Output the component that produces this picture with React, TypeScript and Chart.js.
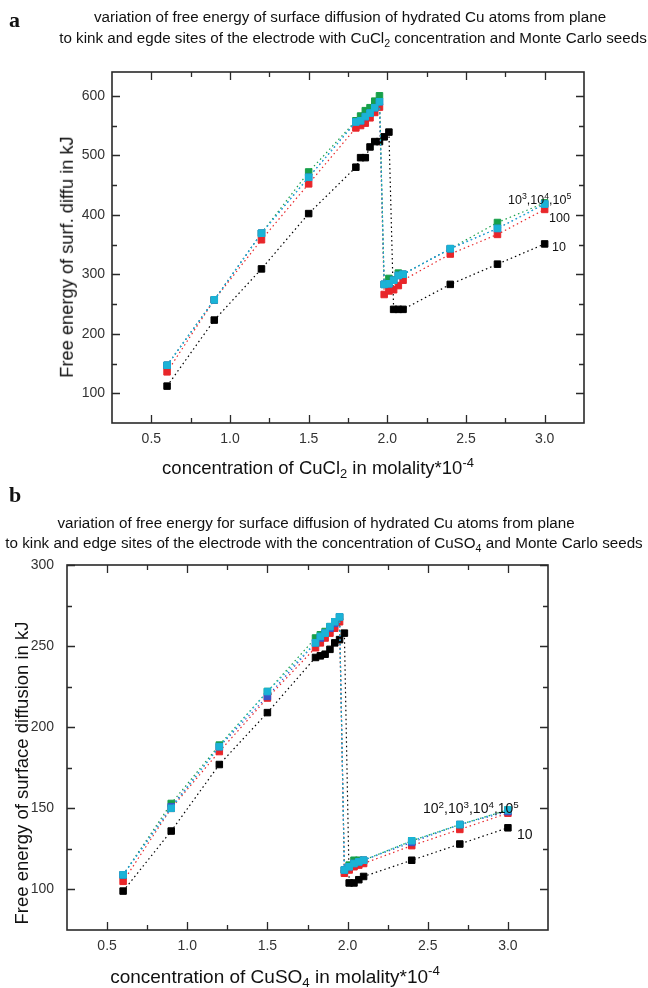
import React, { useEffect, useRef } from 'react';
import { Chart, registerables } from 'chart.js';

Chart.register(...registerables);

const FONT = '"Liberation Sans", Arial, sans-serif';

// concentration (molality * 10^-4)
const xConc = [0.6, 0.9, 1.2, 1.5, 1.8, 1.83, 1.86, 1.89, 1.92, 1.95, 1.98, 2.01, 2.04, 2.07, 2.1, 2.4, 2.7, 3.0];

// Panel a: CuCl2
const aSeed10 = [112, 223, 309, 402, 480, 496, 496, 514, 523, 523, 531, 539, 241, 241, 241, 283, 317, 351];
const aSeed100 = [136, 257, 358, 452, 546, 550, 554, 563, 572, 581, 266, 272, 274, 281, 290, 334, 367, 409];
const aSeed1e3 = [147, 257, 369, 472, 558, 566, 575, 580, 591, 600, 283, 293, 290, 302, 300, 343, 387, 420];
const aSeed1e4 = [147, 257, 369, 463, 556, 558, 565, 571, 580, 590, 283, 284, 290, 298, 300, 343, 377, 418];
const aSeed1e5 = [147, 257, 369, 463, 556, 558, 565, 571, 580, 590, 283, 284, 290, 298, 300, 343, 377, 418];

// Panel b: CuSO4
const bSeed10 = [99, 136, 177, 209, 243, 244, 245, 248, 252, 254, 258, 104, 104, 106, 108, 118, 128, 138];
const bSeed100 = [105, 150, 185, 218, 249, 252, 255, 258, 261, 265, 110, 112, 114, 115, 116, 127, 137, 147];
const bSeed1e3 = [109, 153, 189, 222, 255, 257, 259, 262, 265, 268, 112, 115, 118, 118, 118, 130, 140, 149];
const bSeed1e4 = [109, 151, 188, 219, 252, 255, 258, 261, 264, 268, 112, 114, 116, 117, 118, 129, 140, 148];
const bSeed1e5 = [109, 150, 188, 222, 252, 256, 258, 262, 265, 268, 112, 114, 116, 117, 118, 130, 140, 149];

const seedLabels = ['10', '100', '1000', '10000', '100000'];
const seedColors = ['#000000', '#e8262a', '#17a04a', '#3a55c8', '#1bb3d6'];
const seedOrder = [4, 3, 2, 1, 0];

const xMajor = [0.5, 1.0, 1.5, 2.0, 2.5, 3.0];
const xMinor = [0.75, 1.25, 1.75, 2.25, 2.75];
const aYMajor = [100, 200, 300, 400, 500, 600];
const aYMinor = [150, 250, 350, 450, 550];
const bYMajor = [100, 150, 200, 250, 300];
const bYMinor = [125, 175, 225, 275];

const framePlugin = {
  id: 'frame',
  afterDraw(chart: any, _args: any, opts: any) {
    const { ctx, chartArea, scales } = chart;
    const { left, right, top, bottom } = chartArea;
    const x = scales.x;
    const y = scales.y;
    ctx.save();
    ctx.strokeStyle = '#2a2a2a';
    ctx.lineWidth = 1.6;
    ctx.strokeRect(left, top, right - left, bottom - top);
    ctx.lineWidth = 1.3;
    const drawX = (vals: number[], len: number) => {
      for (const v of vals) {
        const px = Math.round(x.getPixelForValue(v)) + 0.5;
        ctx.beginPath();
        ctx.moveTo(px, bottom);
        ctx.lineTo(px, bottom - len);
        ctx.moveTo(px, top);
        ctx.lineTo(px, top + len);
        ctx.stroke();
      }
    };
    const drawY = (vals: number[], len: number) => {
      for (const v of vals) {
        const py = Math.round(y.getPixelForValue(v)) + 0.5;
        ctx.beginPath();
        ctx.moveTo(left, py);
        ctx.lineTo(left + len, py);
        ctx.moveTo(right, py);
        ctx.lineTo(right - len, py);
        ctx.stroke();
      }
    };
    drawX(opts.xMajor, 8);
    drawX(opts.xMinor, 5);
    drawY(opts.yMajor, 8);
    drawY(opts.yMinor, 5);
    ctx.restore();
  },
};

function makeDatasets(series: number[][]) {
  return series.map((vals, i) => ({
    label: seedLabels[i],
    data: xConc.map((xv, j) => ({ x: xv, y: vals[j] })),
    borderColor: seedColors[i],
    backgroundColor: seedColors[i],
    borderWidth: 1.2,
    borderDash: [1.5, 3],
    pointStyle: 'rect',
    pointRadius: 4.6,
    pointBorderWidth: 1,
    pointBorderColor: seedColors[i],
    pointBackgroundColor: seedColors[i],
    showLine: true,
    fill: false,
    tension: 0,
    order: seedOrder[i],
  }));
}

function makeConfig(
  series: number[][],
  yMin: number,
  yMax: number,
  yMajor: number[],
  yMinor: number[],
  padding: any,
  yWidth: number,
  yPad: number
): any {
  return {
    type: 'line',
    data: { datasets: makeDatasets(series) },
    plugins: [framePlugin],
    options: {
      responsive: false,
      animation: false,
      events: [],
      layout: { padding },
      plugins: {
        legend: { display: false },
        tooltip: { enabled: false },
        frame: { xMajor, xMinor, yMajor, yMinor },
      },
      scales: {
        x: {
          type: 'linear',
          min: 0.25,
          max: 3.25,
          afterFit: (s: any) => {
            s.height = 30;
          },
          afterBuildTicks: (s: any) => {
            s.ticks = xMajor.map((v) => ({ value: v }));
          },
          ticks: {
            callback: (v: any) => Number(v).toFixed(1),
            font: { family: FONT, size: 14 },
            color: '#333',
            padding: 8,
            maxRotation: 0,
            autoSkip: false,
          },
          grid: { display: false, drawTicks: false },
          border: { display: false },
        },
        y: {
          type: 'linear',
          min: yMin,
          max: yMax,
          afterFit: (s: any) => {
            s.width = yWidth;
          },
          afterBuildTicks: (s: any) => {
            s.ticks = yMajor.map((v) => ({ value: v }));
          },
          ticks: {
            callback: (v: any) => String(v),
            font: { family: FONT, size: 14 },
            color: '#333',
            padding: yPad,
            autoSkip: false,
          },
          grid: { display: false, drawTicks: false },
          border: { display: false },
        },
      },
    },
  };
}

function ChartCanvas({ top, height, config }: { top: number; height: number; config: () => any }) {
  const ref = useRef<HTMLCanvasElement>(null);
  useEffect(() => {
    const chart = new Chart(ref.current as HTMLCanvasElement, config());
    return () => chart.destroy();
  }, []);
  return (
    <canvas
      ref={ref}
      width={648}
      height={height}
      style={{ position: 'absolute', left: 0, top, width: 648, height }}
    />
  );
}

const subStyle: React.CSSProperties = { fontSize: '70%', verticalAlign: '-0.35em', lineHeight: 0 };
const supStyle: React.CSSProperties = { fontSize: '70%', verticalAlign: '0.55em', lineHeight: 0 };

function Txt({
  cx,
  cy,
  size,
  children,
  anchor = 'center',
  rotate = false,
  style,
}: {
  cx: number;
  cy: number;
  size: number;
  children: React.ReactNode;
  anchor?: 'center' | 'left';
  rotate?: boolean;
  style?: React.CSSProperties;
}) {
  const tx = anchor === 'center' ? '-50%' : '0';
  return (
    <div
      style={{
        position: 'absolute',
        left: cx,
        top: cy,
        whiteSpace: 'nowrap',
        fontFamily: FONT,
        fontSize: size,
        lineHeight: 1,
        color: '#111',
        transform: `translate(${tx}, -50%)${rotate ? ' rotate(-90deg)' : ''}`,
        transformOrigin: rotate ? 'center center' : undefined,
        ...style,
      }}
    >
      {children}
    </div>
  );
}

export default function App() {
  const configA = () =>
    makeConfig(
      [aSeed10, aSeed100, aSeed1e3, aSeed1e4, aSeed1e5],
      50,
      640,
      aYMajor,
      aYMinor,
      { left: 62, right: 64, top: 72, bottom: 27 },
      50,
      7
    );
  const configB = () =>
    makeConfig(
      [bSeed10, bSeed100, bSeed1e3, bSeed1e4, bSeed1e5],
      75,
      300,
      bYMajor,
      bYMinor,
      { left: 22, right: 100, top: 75, bottom: 28 },
      45,
      13
    );
  const letter: React.CSSProperties = {
    fontFamily: '"Liberation Serif", "DejaVu Serif", serif',
    fontWeight: 'bold',
  };
  return (
    <div style={{ position: 'absolute', left: 0, top: 0, width: 648, height: 988, background: '#fff', overflow: 'hidden' }}>
      <ChartCanvas top={0} height={480} config={configA} />
      <ChartCanvas top={490} height={498} config={configB} />

      {/* panel a texts */}
      <Txt cx={9} cy={20} size={22} anchor="left" style={letter}>a</Txt>
      <Txt cx={350} cy={17} size={15.2}>
        variation of free energy of surface diffusion of hydrated Cu atoms from plane
      </Txt>
      <Txt cx={353} cy={38} size={15.2}>
        to kink and egde sites of the electrode with CuCl<span style={subStyle}>2</span> concentration and Monte Carlo seeds
      </Txt>
      <Txt cx={67} cy={257} size={18.3} rotate>
        Free energy of surf. diffu in kJ
      </Txt>
      <Txt cx={318} cy={468} size={18.5}>
        concentration of CuCl<span style={subStyle}>2</span> in molality*10<span style={supStyle}>-4</span>
      </Txt>
      <Txt cx={508} cy={200} size={12.5} anchor="left">
        10<span style={supStyle}>3</span>,10<span style={supStyle}>4</span>,10<span style={supStyle}>5</span>
      </Txt>
      <Txt cx={549} cy={218} size={12.5} anchor="left">100</Txt>
      <Txt cx={552} cy={247} size={12.5} anchor="left">10</Txt>

      {/* panel b texts */}
      <Txt cx={9} cy={495} size={22} anchor="left" style={letter}>b</Txt>
      <Txt cx={316} cy={523} size={15.2}>
        variation of free energy for surface diffusion of hydrated Cu atoms from plane
      </Txt>
      <Txt cx={324} cy={543} size={15.2}>
        to kink and edge sites of the electrode with the concentration of CuSO<span style={subStyle}>4</span> and Monte Carlo seeds
      </Txt>
      <Txt cx={22} cy={773} size={18.5} rotate>
        Free energy of surface diffusion in kJ
      </Txt>
      <Txt cx={275} cy={976} size={19}>
        concentration of CuSO<span style={subStyle}>4</span> in molality*10<span style={supStyle}>-4</span>
      </Txt>
      <Txt cx={423} cy={808} size={14} anchor="left">
        10<span style={supStyle}>2</span>,10<span style={supStyle}>3</span>,10<span style={supStyle}>4</span>,10<span style={supStyle}>5</span>
      </Txt>
      <Txt cx={517} cy={834} size={14} anchor="left">10</Txt>
    </div>
  );
}
